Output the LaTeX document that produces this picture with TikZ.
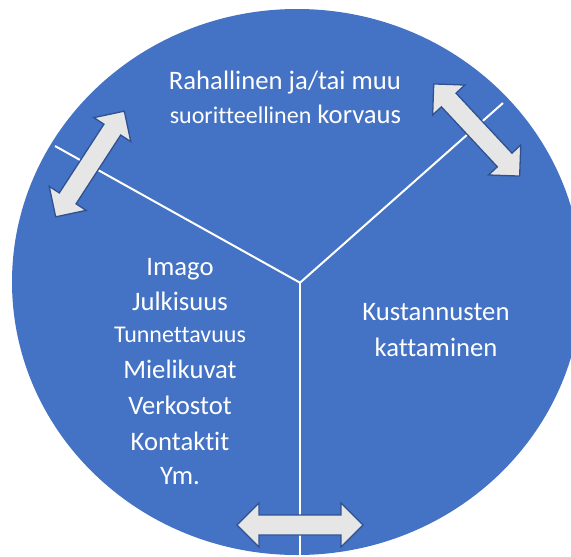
\documentclass[tikz,border=0pt]{standalone}
\usepackage{fontspec}
\setmainfont{Carlito}[Ligatures={NoCommon}]
\definecolor{discblue}{HTML}{4472C4}
\definecolor{arrowgray}{HTML}{E7E6E6}
\definecolor{arrowedge}{HTML}{2F528F}
\tikzset{
  divider/.style={draw=white, line width=2pt},
  twowaystyle/.style={draw=arrowedge, fill=arrowgray, line width=1.3pt, line join=miter},
  twoway/.pic={
    \path[twowaystyle] (-63,0) -- (-41,-22) -- (-41,-10) -- (41,-10) -- (41,-22)
      -- (63,0) -- (41,22) -- (41,10) -- (-41,10) -- (-41,22) -- cycle;
  },
  bigtext/.style={text=white, anchor=base, inner sep=0pt, font=\fontsize{26.67}{32}\selectfont},
  smalltext/.style={text=white, anchor=base, inner sep=0pt, font=\fontsize{24}{29}\selectfont}
}
\begin{document}
\begin{tikzpicture}[x=1pt, y=-1pt]
\useasboundingbox (0,0) rectangle (571,557);
\clip (0,0) rectangle (571,557);
% disc
\fill[discblue] (297,282) ellipse [x radius=285, y radius=273];
% Y dividers
\coordinate (J) at (300,282.7);
\coordinate (endL) at (55,146);
\coordinate (endR) at (503,103);
\coordinate (endB) at (300,560);
\draw[divider] (J) -- (endL);
\draw[divider] (J) -- (endR);
\draw[divider] (J) -- (endB);
% two-way arrows
\pic[rotate=57] (arrL) at (90,164) {twoway};
\pic[rotate=-47] (arrR) at (476.7,130) {twoway};
\pic (arrB) at (300,525) {twoway};
% top text
\node[bigtext] (t1) at (285,89) {Rahallinen ja/tai muu};
\node[bigtext] (t2) at (285.5,123) {{\fontsize{24}{29}\selectfont suoritteellinen} korvaus};
% right text
\node[bigtext] (r1) at (436,320) {Kustannusten};
\node[bigtext] (r2) at (436,356) {kattaminen};
% left list
\node[bigtext] (l1) at (180,275) {Imago};
\node[bigtext] (l2) at (180,310) {Julkisuus};
\node[smalltext] (l3) at (180,342.5) {Tunnettavuus};
\node[bigtext] (l4) at (180,378.5) {Mielikuvat};
\node[bigtext] (l5) at (180,414.3) {Verkostot};
\node[bigtext] (l6) at (180,450.3) {Kontaktit};
\node[bigtext] (l7) at (180,484.3) {Ym.};
\end{tikzpicture}
\end{document}
